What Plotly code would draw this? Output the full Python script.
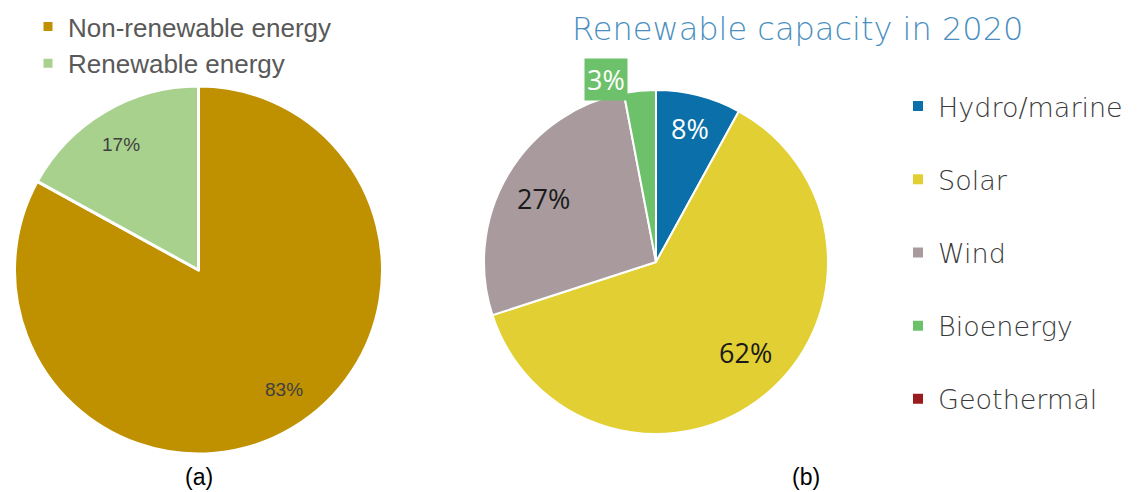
import math
import plotly.graph_objects as go

# ---------------- data ----------------
left_labels = ["Non-renewable energy", "Renewable energy"]
left_values = [83, 17]
left_colors = ["#BF9000", "#A9D18E"]

right_title = "Renewable capacity in 2020"
right_labels = ["Hydro/marine", "Solar", "Wind", "Bioenergy", "Geothermal"]
right_values = [8, 62, 27, 3, 0]
right_colors = ["#0B70A9", "#E2CF33", "#A99B9D", "#6DC16A", "#9A1B1D"]

captions = ["(a)", "(b)"]

# ---------------- layout constants ----------------
W, H = 1139, 492
L_CX, L_CY, L_R = 198.5, 270, 184
R_CX, R_CY, R_R = 656, 262, 172


def dom(cx, cy, r):
    return dict(x=[(cx - r) / W, (cx + r) / W], y=[1 - (cy + r) / H, 1 - (cy - r) / H])


def slice_pos(cx, cy, r, values, i, rf, dang=0.0):
    total = sum(values)
    start = sum(values[:i]) / total
    mid = start + values[i] / total / 2
    a = 2 * math.pi * mid + math.radians(dang)
    x = cx + rf * r * math.sin(a)
    y = cy - rf * r * math.cos(a)
    return x / W, 1 - y / H


def ann(x, y, text, font, **kw):
    d = dict(x=x, y=y, xref="paper", yref="paper", showarrow=False, text=text,
             xanchor="center", yanchor="middle", font=font)
    d.update(kw)
    return d


fig = go.Figure()

fig.add_trace(go.Pie(
    labels=left_labels, values=left_values, sort=False, direction="clockwise",
    rotation=0, domain=dom(L_CX, L_CY, L_R), textinfo="none",
    marker=dict(colors=left_colors, line=dict(color="white", width=3)),
    legend="legend", automargin=False, hoverinfo="label+percent",
))

fig.add_trace(go.Pie(
    labels=[l + "<br> " for l in right_labels], values=right_values, sort=False,
    direction="clockwise", rotation=0, domain=dom(R_CX, R_CY, R_R), textinfo="none",
    marker=dict(colors=right_colors, line=dict(color="white", width=2)),
    legend="legend2", automargin=False, hoverinfo="label+percent",
))

annotations = []
# left pie percentage labels
ltot = sum(left_values)
l_dang = [-5, -1]
for i, v in enumerate(left_values):
    x, y = slice_pos(L_CX, L_CY, L_R, left_values, i, 0.8, dang=l_dang[i])
    annotations.append(ann(x, y, f"{round(100 * v / ltot)}%",
                           dict(family="Liberation Sans", size=19, color="#404040")))

# right pie percentage labels
rtot = sum(right_values)
r_font_colors = ["white", "#1a1a1a", "#1a1a1a", "white", "white"]
r_rf = [0.8, 0.74, 0.75, 1.1, 0]
r_dang = [0, -5, -1, -10, 0]
for i, v in enumerate(right_values):
    if v == 0:
        continue
    txt = f"{round(100 * v / rtot)}%"
    x, y = slice_pos(R_CX, R_CY, R_R, right_values, i, r_rf[i], dang=r_dang[i])
    if i == 3:
        annotations.append(ann(x, y, txt, dict(family="Open Sans", size=27, color="white"),
                               bgcolor=right_colors[i], borderpad=2))
    else:
        annotations.append(ann(x, y, txt,
                               dict(family="Open Sans", size=27, color=r_font_colors[i])))

# title of right chart
annotations.append(ann(797 / W, 1 - 29 / H, right_title,
                       dict(family="DejaVu Sans", size=32, color="#4A8FBF", weight=200)))

# captions
for cap, cx in zip(captions, [199, 806]):
    annotations.append(ann(cx / W, 1 - 477 / H, cap,
                           dict(family="Liberation Sans", size=23, color="black")))

fig.update_layout(
    width=W, height=H,
    margin=dict(l=0, r=0, t=0, b=0),
    paper_bgcolor="white", plot_bgcolor="white",
    annotations=annotations,
    legend=dict(x=28 / W, y=1 - 3 / H, xanchor="left", yanchor="top",
                font=dict(family="Liberation Sans", size=26, color="#595959"),
                bgcolor="rgba(0,0,0,0)", traceorder="normal"),
    legend2=dict(x=898 / W, y=1 - 82 / H, xanchor="left", yanchor="top", valign="top",
                 font=dict(family="DejaVu Sans", size=27, color="#3a3a3a", weight=200),
                 bgcolor="rgba(0,0,0,0)", traceorder="normal"),
)

fig.write_html("out.html", config={"displayModeBar": False})
